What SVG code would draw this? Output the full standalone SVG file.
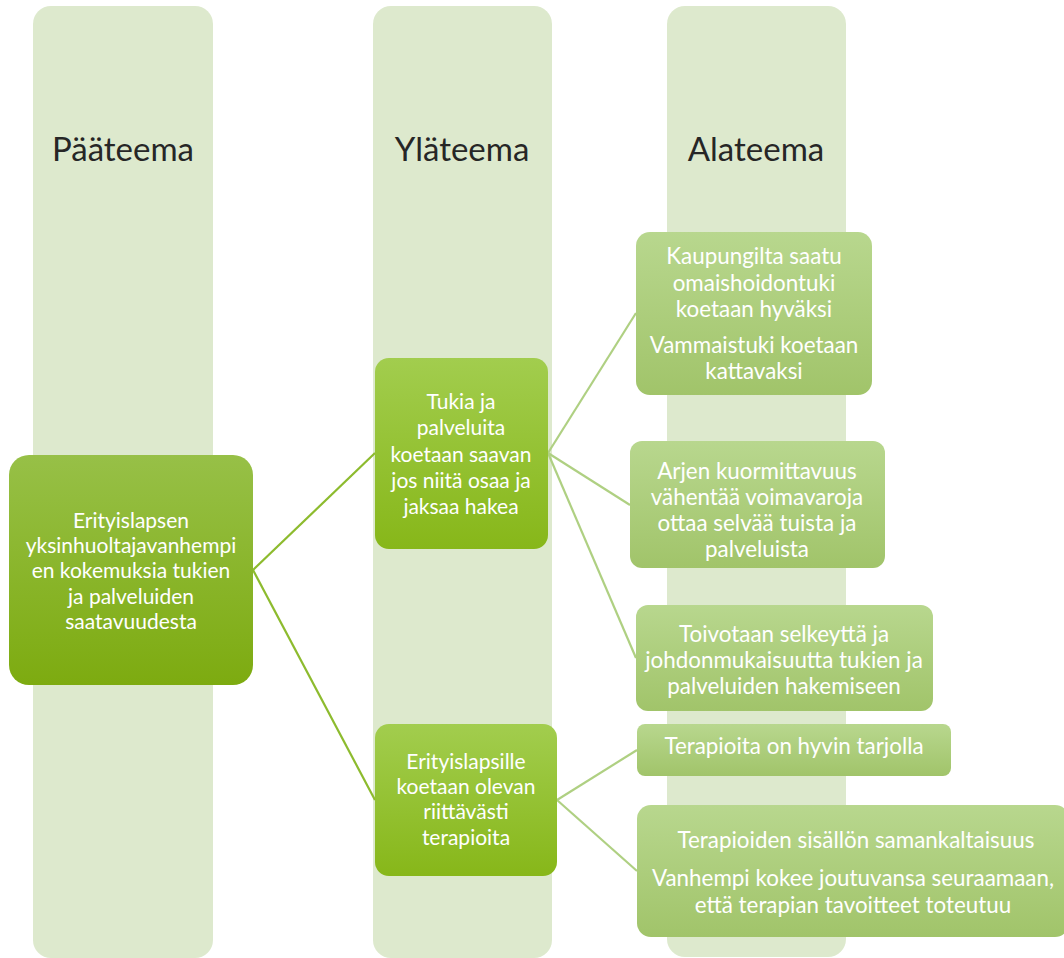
<svg xmlns="http://www.w3.org/2000/svg" width="1064" height="958" viewBox="0 0 1064 958">
<defs>
<linearGradient id="g1" x1="0" y1="0" x2="0" y2="1"><stop offset="0" stop-color="#97c047"/><stop offset="1" stop-color="#7dab10"/></linearGradient>
<linearGradient id="g2" x1="0" y1="0" x2="0" y2="1"><stop offset="0" stop-color="#a2cd4e"/><stop offset="1" stop-color="#87b719"/></linearGradient>
<linearGradient id="g3" x1="0" y1="0" x2="0" y2="1"><stop offset="0" stop-color="#b8d78e"/><stop offset="1" stop-color="#a1c46a"/></linearGradient>
<style>
.col{fill:#dde9cd}
.hdr{font-family:"Lato","Open Sans",sans-serif;font-size:33px;fill:#262626;text-anchor:middle}
.t{font-family:"Lato","Open Sans",sans-serif;font-size:21px;fill:#ffffff;text-anchor:middle}
.t3{font-size:22.4px}
.c1{stroke:#8dbb2e;stroke-width:2.2;fill:none}
.c2{stroke:#afd082;stroke-width:2.2;fill:none}
</style>
</defs>
<g id="columns">
<rect class="col" x="33" y="6" width="180" height="952" rx="18"/>
<rect class="col" x="373" y="6" width="179" height="952" rx="18"/>
<rect class="col" x="667" y="6" width="179" height="951" rx="18"/>
<text class="hdr" x="123" y="161">Pääteema</text>
<text class="hdr" x="462" y="161">Yläteema</text>
<text class="hdr" x="756" y="161">Alateema</text>
</g>
<g id="connectors">
<line class="c1" x1="253" y1="570" x2="375" y2="453"/>
<line class="c1" x1="253" y1="570" x2="375" y2="800"/>
<line class="c2" x1="548" y1="453" x2="636" y2="313"/>
<line class="c2" x1="548" y1="453" x2="630" y2="505"/>
<line class="c2" x1="548" y1="453" x2="636" y2="658"/>
<line class="c2" x1="557" y1="800" x2="637" y2="750"/>
<line class="c2" x1="557" y1="800" x2="637" y2="871"/>
</g>
<g id="n-main">
<rect x="9" y="455" width="244" height="230" rx="20" fill="url(#g1)"/>
<text class="t"><tspan x="131" y="528">Erityislapsen</tspan><tspan x="131" y="553">yksinhuoltajavanhempi</tspan><tspan x="131" y="578">en kokemuksia tukien</tspan><tspan x="131" y="604">ja palveluiden</tspan><tspan x="131" y="629">saatavuudesta</tspan></text>
</g>
<g id="n-tukia">
<rect x="375" y="358" width="173" height="191" rx="14" fill="url(#g2)"/>
<text class="t"><tspan x="461" y="409">Tukia ja</tspan><tspan x="461" y="435">palveluita</tspan><tspan x="461" y="462">koetaan saavan</tspan><tspan x="461" y="488">jos niitä osaa ja</tspan><tspan x="461" y="514">jaksaa hakea</tspan></text>
</g>
<g id="n-erityislapsille">
<rect x="375" y="724" width="182" height="152" rx="14" fill="url(#g2)"/>
<text class="t"><tspan x="466" y="769">Erityislapsille</tspan><tspan x="466" y="794">koetaan olevan</tspan><tspan x="466" y="819">riittävästi</tspan><tspan x="466" y="845">terapioita</tspan></text>
</g>
<g id="n-kaupungilta">
<rect x="636" y="232" width="236" height="163" rx="14" fill="url(#g3)"/>
<text class="t t3"><tspan x="754" y="264">Kaupungilta saatu</tspan><tspan x="754" y="291">omaishoidontuki</tspan><tspan x="754" y="317">koetaan hyväksi</tspan><tspan x="754" y="353">Vammaistuki koetaan</tspan><tspan x="754" y="379">kattavaksi</tspan></text>
</g>
<g id="n-arjen">
<rect x="630" y="441" width="255" height="127" rx="12" fill="url(#g3)"/>
<text class="t t3"><tspan x="757" y="479">Arjen kuormittavuus</tspan><tspan x="757" y="505">vähentää voimavaroja</tspan><tspan x="757" y="531">ottaa selvää tuista ja</tspan><tspan x="757" y="557">palveluista</tspan></text>
</g>
<g id="n-toivotaan">
<rect x="636" y="605" width="297" height="106" rx="12" fill="url(#g3)"/>
<text class="t t3"><tspan x="784" y="642">Toivotaan selkeyttä ja</tspan><tspan x="784" y="668">johdonmukaisuutta tukien ja</tspan><tspan x="784" y="694">palveluiden hakemiseen</tspan></text>
</g>
<g id="n-terapioita">
<rect x="637" y="724" width="314" height="52" rx="8" fill="url(#g3)"/>
<text class="t t3" x="794" y="754">Terapioita on hyvin tarjolla</text>
</g>
<g id="n-terapioiden">
<rect x="637" y="805" width="432" height="132" rx="14" fill="url(#g3)"/>
<text class="t t3"><tspan x="856" y="848">Terapioiden sisällön samankaltaisuus</tspan><tspan x="853" y="886">Vanhempi kokee joutuvansa seuraamaan,</tspan><tspan x="853" y="913">että terapian tavoitteet toteutuu</tspan></text>
</g>
</svg>
